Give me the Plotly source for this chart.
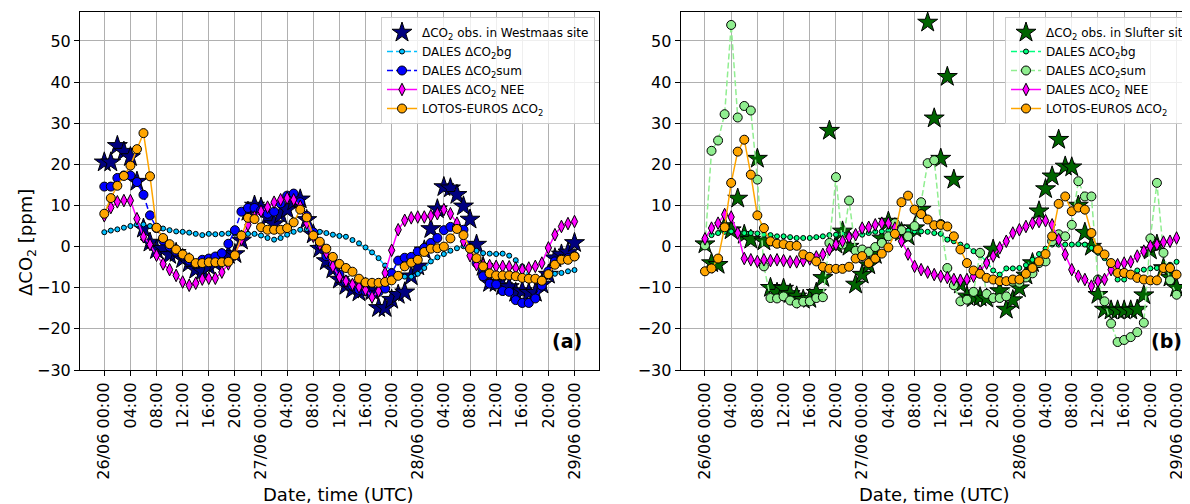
import pandas as pd
import plotly.graph_objects as go

# ---------------- data (hourly, 26/06 00:00 .. 29/06 00:00) ----------------
start = "2019-06-26 00:00"
times = pd.date_range(start, periods=73, freq="h")

obs_a = [20.5, 20.5, 24.5, 23.1, 21.8, 15.8, 4.4, 1.0, -0.8, -0.5, -2.0, -1.5, -3.0, -4.0, -5.6, -6.0,
         -4.8, -4.0, -3.0, -2.0, -1.8, 1.5, 8.5, 10.0, 9.5, 7.2, 5.5, 7.8, 9.0, 11.0, 11.5, 6.5,
         3.0, -0.5, -3.5, -5.5, -8.0, -9.5, -10.4, -11.1, -10.0, -10.8, -14.9, -14.9, -12.9, -11.7, -11.1, -7.2,
         -4.8, -0.9, 4.3, 9.1, 14.5, 14.2, 12.6, 9.8, 6.6, 0.5, -4.9, -8.8, -8.8, -9.6, -9.8, -11.2,
         -10.8, -11.2, -11.2, -9.2, -6.8, -2.8, -1.9, -1.4, 0.9]
bg_a = [3.5, 3.9, 4.2, 4.6, 5.0, 5.4, 5.4, 5.0, 4.5, 4.4, 4.0, 3.7, 3.6, 3.4, 3.1, 2.8,
        3.1, 3.0, 3.1, 3.2, 3.2, 3.2, 3.1, 3.1, 2.7, 2.1, 1.7, 2.1, 2.9, 3.6, 4.1, 4.3,
        3.9, 3.6, 3.3, 2.9, 2.6, 2.4, 1.6, 0.8, -0.2, -1.4, -2.8, -4.6, -5.9, -6.9, -7.3, -7.3,
        -6.6, -5.2, -3.6, -2.6, -1.8, -1.0, -0.4, 0.1, 0.0, -1.0, -1.6, -1.7, -1.8, -1.7, -2.2, -3.3,
        -4.8, -7.4, -7.9, -7.7, -7.2, -6.6, -6.4, -6.0, -5.7]
sum_a = [14.6, 14.6, 16.7, 17.3, 17.3, 15.7, 12.6, 7.6, 4.5, 1.5, 0.0, -1.2, -2.2, -3.4, -4.2, -3.2,
         -2.9, -2.4, -1.6, 0.7, 4.0, 8.5, 9.4, 9.4, 8.8, 8.0, 8.5, 10.5, 12.4, 12.9, 10.8, 7.5,
         3.5, 0.5, -2.3, -4.4, -6.8, -8.5, -9.5, -10.5, -10.8, -11.8, -11.0, -10.2, -6.5, -3.4, -2.7, -2.5,
         -1.2, -0.3, 0.9, 2.1, 4.0, 4.8, 4.7, 4.1, -0.3, -4.0, -7.2, -9.0, -9.2, -10.8, -11.0, -13.0,
         -13.7, -13.7, -12.6, -9.5, -6.0, -3.6, -3.0, -2.8, -2.3]
nee_a = [7.5, 9.5, 10.9, 11.2, 11.2, 6.8, 2.4, 0.5, -2.1, -4.2, -5.6, -7.0, -8.6, -9.4, -8.9, -7.9,
         -7.7, -7.7, -6.2, -4.2, -1.9, 1.7, 5.3, 7.2, 8.6, 9.6, 10.8, 11.4, 11.8, 11.4, 9.8, 5.7,
         2.5, 0.5, -1.5, -4.8, -7.4, -8.4, -9.2, -9.8, -10.5, -12.3, -10.8, -6.4, -0.9, 4.1, 6.4, 7.0,
         7.2, 7.2, 7.5, 8.0, 9.0, 8.0, 5.7, 1.3, -2.2, -4.4, -4.4, -4.6, -4.8, -4.8, -4.9, -5.2,
         -5.6, -5.2, -4.8, -4.0, -0.3, 2.9, 4.9, 5.6, 6.1]
lotos_a = [8.0, 11.8, 14.8, 17.2, 19.7, 23.7, 27.6, 17.1, 4.6, 2.1, 0.6, -0.7, -1.9, -2.8, -4.0, -4.0,
           -3.8, -3.8, -3.8, -3.7, -2.1, 2.7, 7.0, 6.7, 4.7, 4.1, 4.1, 4.1, 4.5, 5.9, 9.0, 7.1,
           2.7, 1.2, -0.5, -2.5, -4.2, -5.2, -6.1, -7.8, -8.7, -8.8, -8.8, -8.6, -8.2, -7.1, -4.8, -3.9,
           -3.2, -1.3, -0.5, -0.4, 0.0, 2.0, 4.3, 2.8, -0.5, -2.8, -4.8, -6.5, -7.0, -7.0, -7.0, -7.2,
           -7.6, -7.8, -7.8, -8.3, -6.7, -4.4, -3.2, -3.2, -2.4]

obs_b = [0.6, -4.0, -4.4, 5.0, 4.0, 11.7, 2.9, 1.7, 21.4, 1.3, -10.0, -11.2, -10.2, -11.5, -12.1, -12.9,
         -12.7, -11.2, -7.6, 28.2, 0.5, 3.7, 0.0, -9.2, -6.8, -4.5, -2.0, 2.0, 6.1, 4.5, 3.5, 2.5,
         4.5, 9.0, 54.5, 31.2, 21.4, 41.3, 16.3, -9.2, -12.1, -12.5, -12.3, -12.6, -0.7, -10.8, -15.3, -13.0,
         -10.1, -7.0, -4.0, 8.6, 14.0, 17.1, 26.0, 19.5, 19.3, 10.0, 3.4, 0.0, -11.7, -15.3, -15.5, -15.5,
         -15.5, -15.5, -15.3, -11.8, -0.9, 0.5, -5.2, -7.5, -10.0]
bg_b = [0.9, 2.8, 3.3, 3.6, 3.7, 3.6, 3.3, 3.3, 3.2, 2.9, 2.8, 2.5, 2.5, 2.3, 2.1, 2.1,
        2.1, 2.3, 2.5, 2.8, 2.9, 3.1, 2.9, 2.9, 2.9, 3.3, 3.6, 3.7, 3.9, 4.1, 4.1, 3.9,
        3.7, 3.7, 3.6, 3.3, 3.1, 1.7, 1.3, 0.5, 0.1, -1.1, -2.1, -3.6, -5.8, -6.8, -5.3, -5.3,
        -5.2, -4.5, -3.2, -1.8, -0.5, 0.5, 0.5, 0.5, 0.5, 0.6, 0.5, -0.3, -1.5, -2.8, -5.2, -8.0,
        -8.0, -6.4, -5.8, -5.6, -5.3, -5.2, -4.8, -4.4, -3.7]
sum_b = [0.3, 23.3, 25.8, 32.2, 53.9, 31.4, 34.2, 33.1, 16.3, -4.8, -12.5, -12.6, -12.1, -13.1, -13.8, -13.4,
         -13.3, -12.5, -12.3, 0.9, 16.9, 0.5, 11.2, -1.0, -0.7, -1.3, -0.1, 0.9, 2.5, 5.7, 4.0, 2.5,
         5.0, 10.8, 20.3, 21.0, 5.5, -5.2, -9.4, -13.3, -12.9, -11.0, -1.5, -11.5, -12.5, -12.5, -12.1, -8.5,
         -8.8, -7.5, -6.5, -4.0, -3.6, 1.3, 3.0, 2.5, 5.3, 15.9, 12.2, 12.2, -8.0, -13.3, -18.7, -23.2,
         -22.7, -22.0, -20.8, -18.5, 2.0, 15.5, -1.5, -8.2, -11.7]
nee_b = [1.9, 4.5, 5.7, 7.8, 7.2, 3.3, -2.9, -3.2, -3.6, -3.2, -3.4, -3.2, -3.4, -3.7, -3.7, -3.4,
         -3.0, -2.5, -1.9, -0.7, 0.5, 1.3, 2.3, 2.9, 4.5, 4.7, 5.3, 5.7, 5.7, 4.5, 1.3, -1.8,
         -4.8, -5.6, -6.2, -6.8, -7.2, -7.5, -8.0, -8.2, -8.0, -7.2, -6.0, -4.0, -2.3, -0.3, 1.3, 3.3,
         4.1, 4.9, 5.7, 6.1, 6.3, 5.3, 1.7, -1.9, -5.6, -7.2, -8.0, -9.6, -8.4, -8.0, -5.6, -4.4,
         -4.0, -3.7, -2.3, -1.1, 0.1, 0.5, 1.1, 1.3, 2.1]
lotos_b = [-6.0, -5.3, -2.9, 4.7, 15.5, 23.1, 26.0, 17.5, 7.6, 4.5, 1.3, 0.7, 0.6, 0.2, 0.2, -1.9,
           -2.5, -3.6, -4.9, -5.4, -5.4, -5.4, -4.9, -2.9, -2.3, -4.0, -2.9, -1.7, -0.2, 3.1, 10.8, 12.4,
           9.0, 7.9, 6.6, 5.2, 5.3, 4.9, 2.5, -0.7, -4.0, -5.8, -6.6, -7.6, -8.0, -8.4, -8.4, -8.0,
           -8.0, -6.6, -5.2, -3.6, -1.8, 2.5, 10.4, 12.2, 8.6, 9.5, 9.0, 3.3, -0.7, -1.9, -4.0, -6.4,
           -6.4, -6.8, -7.6, -8.0, -8.2, -8.2, -5.2, -5.2, -6.8]

names_a = ["ΔCO<sub>2</sub> obs. in Westmaas site", "DALES ΔCO<sub>2</sub>bg", "DALES ΔCO<sub>2</sub>sum",
           "DALES ΔCO<sub>2</sub> NEE", "LOTOS-EUROS ΔCO<sub>2</sub>"]
names_b = ["ΔCO<sub>2</sub> obs. in Slufter site", "DALES ΔCO<sub>2</sub>bg", "DALES ΔCO<sub>2</sub>sum",
           "DALES ΔCO<sub>2</sub> NEE", "LOTOS-EUROS ΔCO<sub>2</sub>"]

tick_times = pd.date_range(start, periods=19, freq="4h")
tick_text = [t.strftime("%d/%m %H:%M") if t.hour == 0 else t.strftime("%H:%M") for t in tick_times]
y_ticks = [-30, -20, -10, 0, 10, 20, 30, 40, 50]

# ---------------- figure ----------------
FONT = "DejaVu Sans"
fig = go.Figure()

def add_panel(xa, ya, leg, names, obs, bg, sm, nee, lot, c_obs, c_bg, c_sum):
    fig.add_trace(go.Scatter(x=times, y=obs, mode="markers", name=names[0], xaxis=xa, yaxis=ya, legend=leg,
                             marker=dict(symbol="star", size=15, color=c_obs, line=dict(color="black", width=1))))
    fig.add_trace(go.Scatter(x=times, y=bg, mode="lines+markers", name=names[1], xaxis=xa, yaxis=ya, legend=leg,
                             line=dict(color=c_bg, width=1.5, dash="6px,3px"),
                             marker=dict(symbol="circle", size=5, color=c_bg, line=dict(color="black", width=1))))
    fig.add_trace(go.Scatter(x=times, y=sm, mode="lines+markers", name=names[2], xaxis=xa, yaxis=ya, legend=leg,
                             line=dict(color=c_sum, width=1.5, dash="6px,3px"),
                             marker=dict(symbol="circle", size=9, color=c_sum, line=dict(color="black", width=1))))
    fig.add_trace(go.Scatter(x=times, y=nee, mode="lines+markers", name=names[3], xaxis=xa, yaxis=ya, legend=leg,
                             line=dict(color="magenta", width=1.5),
                             marker=dict(symbol="diamond-tall", size=9, color="magenta", line=dict(color="black", width=1))))
    fig.add_trace(go.Scatter(x=times, y=lot, mode="lines+markers", name=names[4], xaxis=xa, yaxis=ya, legend=leg,
                             line=dict(color="orange", width=1.5),
                             marker=dict(symbol="circle", size=9, color="orange", line=dict(color="black", width=1))))

add_panel("x", "y", "legend", names_a, obs_a, bg_a, sum_a, nee_a, lotos_a, "#000080", "#00BFFF", "#0000FF")
add_panel("x2", "y2", "legend2", names_b, obs_b, bg_b, sum_b, nee_b, lotos_b, "#006400", "#00FF7F", "#90EE90")

t0 = pd.Timestamp(start)
rng_a = [t0 - pd.Timedelta(hours=3.72), t0 + pd.Timedelta(hours=75.72)]
rng_b = [t0 - pd.Timedelta(hours=3.72), t0 + pd.Timedelta(hours=74.05)]

# The page places the figure 8 px in from the top-left corner (body margin);
# all screen positions below are converted to figure positions with OFF.
OFF = 8
W, H = 1190 - OFF, 504 - OFF
ML, MR, MT = 80 - OFF, 0, 12 - OFF
MB = H - (370 - OFF)
PW = W - ML - MR
PH = H - MT - MB

def px_x(px):
    return (px - OFF - ML) / PW

def px_y(py):
    return (H - MB - (py - OFF)) / PH

xcommon = dict(type="date", tickmode="array", tickvals=list(tick_times), ticktext=tick_text, tickangle=-90,
               showgrid=True, gridcolor="#b0b0b0", gridwidth=1, showline=True, linecolor="black", linewidth=1,
               mirror=True, ticks="outside", ticklen=5, tickcolor="black",
               tickfont=dict(family=FONT, size=16, color="black"), automargin=False, zeroline=False)
ycommon = dict(range=[-30, 57.05], tickmode="array", tickvals=y_ticks, showgrid=True, gridcolor="#b0b0b0",
               gridwidth=1, showline=True, linecolor="black", linewidth=1, mirror=True, ticks="outside",
               ticklen=5, tickcolor="black", tickfont=dict(family=FONT, size=16, color="black"),
               automargin=False, zeroline=False)

legcommon = dict(bgcolor="rgba(255,255,255,0.8)", bordercolor="#cccccc", borderwidth=1,
                 font=dict(family=FONT, size=12, color="black"), yanchor="top", tracegroupgap=0)

fig.update_layout(
    width=W, height=H, margin=dict(l=ML, r=MR, t=MT, b=MB, autoexpand=False),
    paper_bgcolor="white", plot_bgcolor="white",
    font=dict(family=FONT, size=16, color="black"),
    xaxis=dict(xcommon, domain=[0, px_x(598.8)], range=rng_a, anchor="y"),
    yaxis=dict(ycommon, domain=[0, 1], anchor="x"),
    xaxis2=dict(xcommon, domain=[px_x(680.6), 1], range=rng_b, anchor="y2"),
    yaxis2=dict(ycommon, domain=[0, 1], anchor="x2"),
    legend=dict(legcommon, x=px_x(595), xanchor="right", y=px_y(17)),
    legend2=dict(legcommon, x=px_x(1005), xanchor="left", y=px_y(17)),
    annotations=[
        dict(text="<b>(a)</b>", xref="paper", yref="paper", x=px_x(584), y=px_y(354), xanchor="right",
             yanchor="bottom", showarrow=False, font=dict(family=FONT, size=19, color="black")),
        dict(text="<b>(b)</b>", xref="paper", yref="paper", x=px_x(1184), y=px_y(354), xanchor="right",
             yanchor="bottom", showarrow=False, font=dict(family=FONT, size=19, color="black")),
        dict(text="Date, time (UTC)", xref="paper", yref="paper", x=px_x(338), y=px_y(494), xanchor="center",
             yanchor="middle", showarrow=False, font=dict(family=FONT, size=18, color="black")),
        dict(text="Date, time (UTC)", xref="paper", yref="paper", x=px_x(934), y=px_y(494), xanchor="center",
             yanchor="middle", showarrow=False, font=dict(family=FONT, size=18, color="black")),
        dict(text="ΔCO<sub>2</sub> [ppm]", xref="paper", yref="paper", x=px_x(27), y=px_y(243),
             xanchor="center", yanchor="middle", textangle=-90, showarrow=False,
             font=dict(family=FONT, size=18, color="black")),
    ],
)

fig.write_html("out.html")
